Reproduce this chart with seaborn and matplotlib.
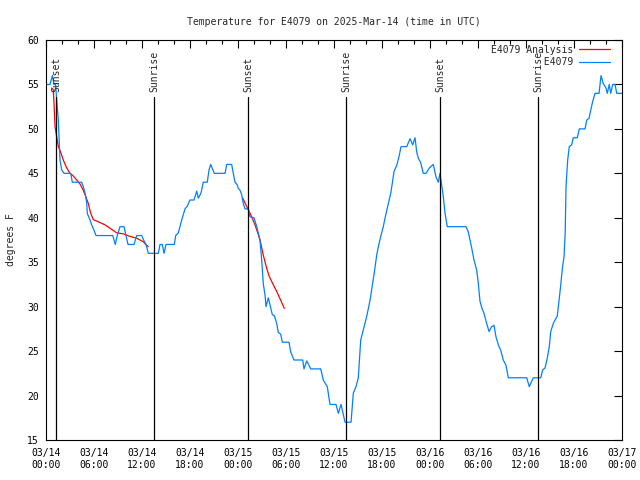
import matplotlib
matplotlib.use("Agg")
import matplotlib.pyplot as plt
import seaborn as sns
import pandas as pd
import numpy as np
from matplotlib.lines import Line2D
from matplotlib.ticker import MultipleLocator

# ---------------- data ----------------
title = "Temperature for E4079 on 2025-Mar-14 (time in UTC)"
ylabel = "degrees F"

obs_hours = [0.0, 0.5, 0.8, 1.0, 1.2, 1.34, 1.54, 1.66, 1.75, 1.96, 2.25, 3.09, 3.29, 4.46,
             4.66, 4.88, 5.09, 5.16, 5.5, 5.71, 6.0, 6.25, 8.34, 8.66, 8.91, 9.25, 9.75,
             10.0, 10.25, 11.0, 11.34, 11.96, 12.2, 12.5, 12.79, 14.04, 14.25, 14.54,
             14.75, 15.0, 16.04, 16.21, 16.54, 16.75, 17.04, 17.38, 17.66, 18.0, 18.5,
             18.84, 19.04, 19.38, 19.66, 20.16, 20.38, 20.59, 21.04, 22.38, 22.59, 23.21,
             23.41, 23.63, 23.91, 24.04, 24.25, 24.46, 24.66, 24.88, 25.29, 25.5, 26.0,
             26.34, 26.75, 26.96, 27.16, 27.38, 27.5, 27.79, 28.0, 28.29, 28.54, 28.84,
             29.04, 29.34, 29.54, 30.38, 30.59, 31.0, 32.09, 32.25, 32.59, 33.09, 34.34,
             34.66, 35.16, 35.5, 36.25, 36.54, 36.88, 37.38, 38.13, 38.41, 38.75, 39.04,
             39.34, 39.66, 40.09, 40.5, 40.71, 41.0, 41.34, 41.54, 41.84, 42.16, 42.46,
             42.79, 43.09, 43.29, 43.5, 43.84, 44.13, 44.38, 45.09, 45.5, 45.84, 46.13,
             46.34, 46.54, 46.84, 47.16, 47.5, 47.91, 48.41, 48.75, 49.04, 49.25, 49.46,
             49.66, 49.88, 50.16, 52.5, 52.79, 53.0, 53.21, 53.5, 53.84, 54.04, 54.25,
             54.5, 54.75, 55.09, 55.38, 55.71, 56.0, 56.25, 56.54, 56.84, 57.16, 57.5,
             57.79, 60.09, 60.41, 60.91, 61.84, 62.09, 62.38, 62.66, 62.91, 63.09, 63.41,
             63.63, 63.91, 64.13, 64.34, 64.54, 64.75, 64.9, 65.0, 65.21, 65.41, 65.71,
             65.91, 66.41, 66.66, 67.38, 67.59, 67.88, 68.09, 68.34, 68.63, 69.13, 69.38,
             69.66, 70.0, 70.16, 70.41, 70.59, 70.84, 71.13, 71.34, 72.0]
obs_temps = [55, 55, 56, 55, 55, 53.2, 51, 48.4, 46.5, 45.4, 45, 45, 44, 44,
             43.5, 42.8, 41.7, 40.5, 39.75, 39.2, 38.6, 38, 38, 37, 38, 39, 39,
             38, 37, 37, 38, 38, 37.5, 37, 36, 36, 37, 37,
             36, 37, 37, 38, 38.3, 39, 40, 41, 41.3, 42, 42,
             43, 42.2, 42.8, 44, 44, 45.4, 46, 45, 45, 46, 46,
             45, 44, 43.7, 43.3, 43.1, 42.6, 41.6, 41, 41, 40.1, 40,
             39, 37.5, 35.25, 32.6, 31.3, 30, 31, 30.2, 29.1, 29, 28.1,
             27.1, 26.9, 26, 26, 24.9, 24, 24, 23, 23.9, 23, 23,
             21.75, 21, 19, 19, 18, 19, 17, 17, 20.25, 21, 22,
             26.25, 27.4, 28.9, 30.7, 31.9, 33.6, 35.8, 36.75, 37.9, 39, 40.3,
             41.6, 42.75, 43.9, 45.2, 45.9, 46.9, 48, 48, 48.9, 48.2, 49,
             47.4, 46.7, 46.2, 45, 45, 45.6, 46, 44.6, 44, 45, 43.7,
             42.4, 40.5, 39, 39, 38.4, 37.5, 36.6, 35.25, 34.1, 32.6, 30.6,
             29.8, 29.25, 28.1, 27.2, 27.75, 27.9, 26.6, 25.7, 25.1, 24, 23.4,
             22, 22, 21, 22, 22, 22.9, 23.1, 24.2, 25.5, 27.2, 28.1,
             28.5, 28.95, 30.75, 32.4, 34.3, 35.6, 38.3, 43.5, 46.5, 48, 48.2,
             49, 49, 50, 50, 51, 51.2, 52.1, 53.1, 54, 54, 56,
             55.1, 54.6, 54, 55, 54, 55, 55, 54, 54]

ana1_hours = [0.71, 0.91, 1.0, 1.13, 1.34, 1.54, 1.75, 2.16, 2.59, 3.0, 3.41, 3.84, 4.25,
              4.66, 4.96, 5.29, 5.59, 5.91, 6.54, 7.38, 8.21, 8.84, 9.66, 10.5, 11.34,
              12.16, 12.59, 12.79]
ana1_temps = [54.6, 54.4, 52.9, 50.25, 49.1, 48.0, 47.6, 46.5, 45.6, 45.0, 44.7, 44.25, 43.8,
              43.1, 42.4, 41.6, 40.5, 39.8, 39.55, 39.2, 38.7, 38.3, 38.2, 37.9, 37.7,
              37.3, 36.9, 36.75]
ana2_hours = [24.6, 24.75, 25.29, 25.71, 26.13, 26.54, 26.75, 27.16, 27.59, 27.91, 28.34,
              28.84, 29.25, 29.79]
ana2_temps = [42.2, 41.9, 40.9, 40.1, 39.2, 38.1, 37.5, 35.8, 34.3, 33.4, 32.6,
              31.7, 30.9, 29.8]

series_names = ["E4079 Analysis", "E4079"]
series_colors = ["#ff0000", "#0080ff"]

sun_hours = [1.25, 13.5, 25.25, 37.5, 49.25, 61.5]
sun_labels = ["Sunset", "Sunrise", "Sunset", "Sunrise", "Sunset", "Sunrise"]

xtick_hours = [0, 6, 12, 18, 24, 30, 36, 42, 48, 54, 60, 66, 72]
xtick_labels = ["03/14\n00:00", "03/14\n06:00", "03/14\n12:00", "03/14\n18:00",
                "03/15\n00:00", "03/15\n06:00", "03/15\n12:00", "03/15\n18:00",
                "03/16\n00:00", "03/16\n06:00", "03/16\n12:00", "03/16\n18:00",
                "03/17\n00:00"]
yticks = [15, 20, 25, 30, 35, 40, 45, 50, 55, 60]

# ---------------- table ----------------
df = pd.concat([
    pd.DataFrame({"hours": ana1_hours, "temp": ana1_temps, "series": series_names[0], "seg": 0}),
    pd.DataFrame({"hours": ana2_hours, "temp": ana2_temps, "series": series_names[0], "seg": 1}),
    pd.DataFrame({"hours": obs_hours, "temp": obs_temps, "series": series_names[1], "seg": 2}),
], ignore_index=True)

# ---------------- style ----------------
sns.set_style("white")
plt.rcParams["font.family"] = ["DejaVu Sans Mono"]
plt.rcParams["font.size"] = 7

fig = plt.figure(figsize=(6.4, 4.8), dpi=100)
ax = fig.add_axes([46 / 640, 1 - 440 / 480, 576 / 640, 400 / 480])

pal = dict(zip(series_names, series_colors))
sns.lineplot(data=df, x="hours", y="temp", hue="series", units="seg", estimator=None,
             palette=pal, linewidth=0.9, legend=False, ax=ax, sort=False)

for h, lab in zip(sun_hours, sun_labels):
    ax.axvline(h, ymin=0, ymax=0.8575, color="black", linewidth=0.9)
    ax.text(h, 0.87, lab, transform=ax.get_xaxis_transform(), rotation=90,
            ha="center", va="bottom", fontsize=7)

ax.set_xlim(0, 72)
ax.set_ylim(15, 60)
ax.set_xticks(xtick_hours)
ax.set_xticklabels(xtick_labels)
ax.xaxis.set_minor_locator(MultipleLocator(2))
ax.set_yticks(yticks)
ax.set_yticklabels([str(v) for v in yticks])
ax.tick_params(which="both", direction="in", top=True, right=True, colors="black",
               width=0.8)
ax.tick_params(which="major", length=6)
ax.tick_params(which="minor", length=3)
ax.tick_params(axis="x", which="major", pad=6, labelsize=7)
ax.tick_params(axis="y", which="major", pad=5, labelsize=7)
for s in ax.spines.values():
    s.set_color("black")
    s.set_linewidth(0.8)
ax.set_xlabel("")
ax.set_ylabel(ylabel, fontsize=7, labelpad=8)
ax.set_title(title, fontsize=7, pad=11)

maxlen = max(len(n) for n in series_names)
handles = [Line2D([], [], color=c, linewidth=0.9) for c in series_colors]
labels = [n.rjust(maxlen) for n in series_names]
ax.legend(handles, labels, loc="upper right", bbox_to_anchor=(0.979, 0.988),
          frameon=False, markerfirst=False, handlelength=3.2, handletextpad=0.6,
          labelspacing=0.25, borderpad=0, borderaxespad=0, fontsize=7)

fig.savefig("out.png", dpi=100, facecolor="white")
